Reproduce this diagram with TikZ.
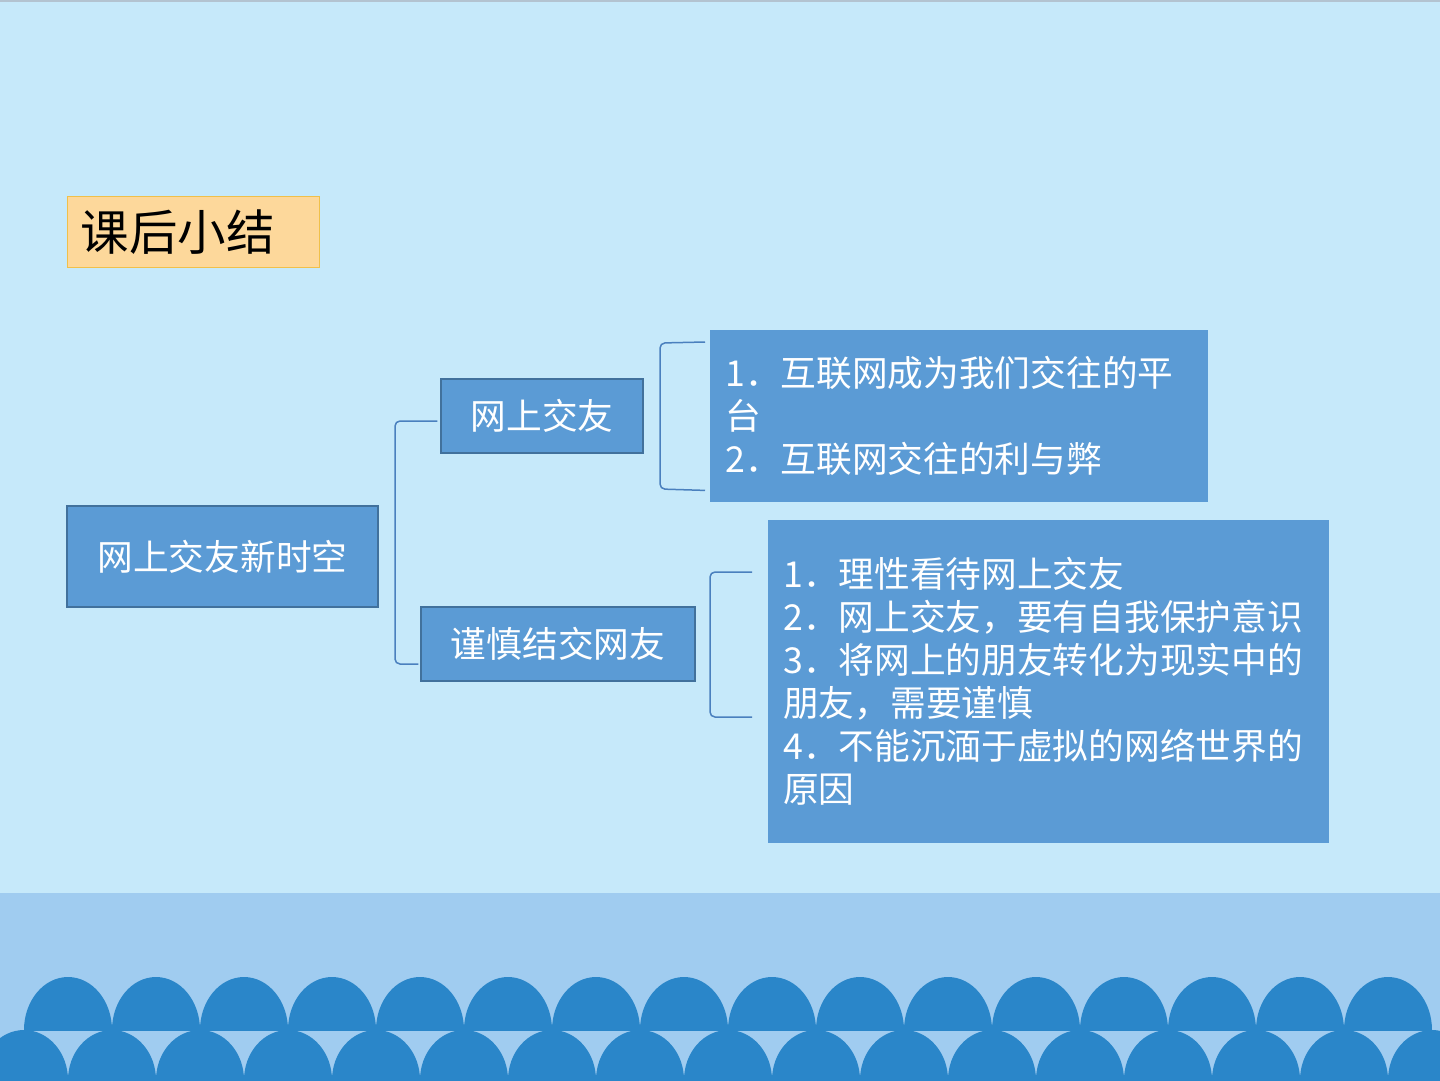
\documentclass[tikz,border=0pt]{standalone}
\usepackage{fontspec}
\setmainfont{Noto Sans CJK SC}
\usetikzlibrary{calc}
\definecolor{bgc}{HTML}{C6E9FA}
\definecolor{bandc}{HTML}{A0CCF0}
\definecolor{wavec}{HTML}{2A86C9}
\definecolor{boxc}{HTML}{5B9BD5}
\definecolor{boxborder}{HTML}{41719C}
\definecolor{titlefill}{HTML}{FDD89B}
\definecolor{titleborder}{HTML}{F0C04A}
\definecolor{brkc}{HTML}{4A80BE}
\definecolor{toplinec}{HTML}{B3C3D0}
\begin{document}
\begin{tikzpicture}[x=1pt,y=-1pt,
  bluebox/.style={fill=boxc,draw=boxborder,line width=1.2pt,text=white,inner sep=0pt,
    font=\fontsize{35.7}{43}\selectfont},
  textbox/.style={fill=boxc,text=white,inner ysep=0pt,align=left,anchor=north west,
    font=\fontsize{35.7}{43}\selectfont},
  titlebox/.style={fill=titlefill,draw=titleborder,line width=1pt,text=black,
    anchor=north west,align=left,font=\fontsize{48.5}{56}\selectfont},
  brk/.style={draw=brkc,line width=1.5pt,rounded corners=5pt}]
\useasboundingbox (0,0) rectangle (1440,1080);
\fill[bgc] (0,0) rectangle (1440,1080);
\fill[toplinec] (0,0) rectangle (1440,2);
\fill[bandc] (0,893) rectangle (1440,1080);
% waves
\begin{scope}
  \clip (0,893) rectangle (1440,1030);
  \foreach \k in {0,...,15} {
    \fill[wavec] (68+88*\k,1030) ellipse [x radius=44pt, y radius=53pt];
  }
\end{scope}
\foreach \k in {0,...,16} {
  \fill[wavec] (24+88*\k,1080) ellipse [x radius=44pt, y radius=50pt];
}
% title
\node[titlebox,minimum width=252pt,minimum height=71pt,text width=226pt,inner xsep=13pt,inner ysep=0pt]
  (title) at (67,196) {\raisebox{-3pt}{课后小结}};
% main boxes
\node[bluebox,minimum width=311pt,minimum height=101pt] (root) at (222.5,556.5) {网上交友新时空};
\node[bluebox,minimum width=202pt,minimum height=74pt] (n2) at (542,416) {网上交友};
\node[bluebox,minimum width=274pt,minimum height=74pt] (n3) at (558,644) {谨慎结交网友};
\node[textbox,minimum height=172pt,text width=468pt,inner xsep=15pt] (t1) at (710,330)
  {\raisebox{-3pt}{1．互联网成为我们交往的平}\\\raisebox{-3pt}{台}\\\raisebox{-3pt}{2．互联网交往的利与弊}};
\node[textbox,minimum height=323pt,text width=531pt,inner xsep=15pt] (t2) at (768,520)
  {1．理性看待网上交友\\2．网上交友，要有自我保护意识\\3．将网上的朋友转化为现实中的\\朋友，需要谨慎\\4．不能沉湎于虚拟的网络世界的\\原因};
% brackets
\draw[brk] ($(n2.west)+(-3,5)$) -- (395,421) -- (395,664) -- ($(n3.west)+(-2,20)$);
\draw[brk] ($(t1.north west)+(-5,12)$) -- (660,343) -- (660,489) -- ($(t1.south west)+(-5,-12)$);
\draw[brk] ($(t2.north west)+(-16,52)$) -- (710,572) -- (710,717) -- ($(t2.north west)+(-16,197)$);
\end{tikzpicture}
\end{document}
